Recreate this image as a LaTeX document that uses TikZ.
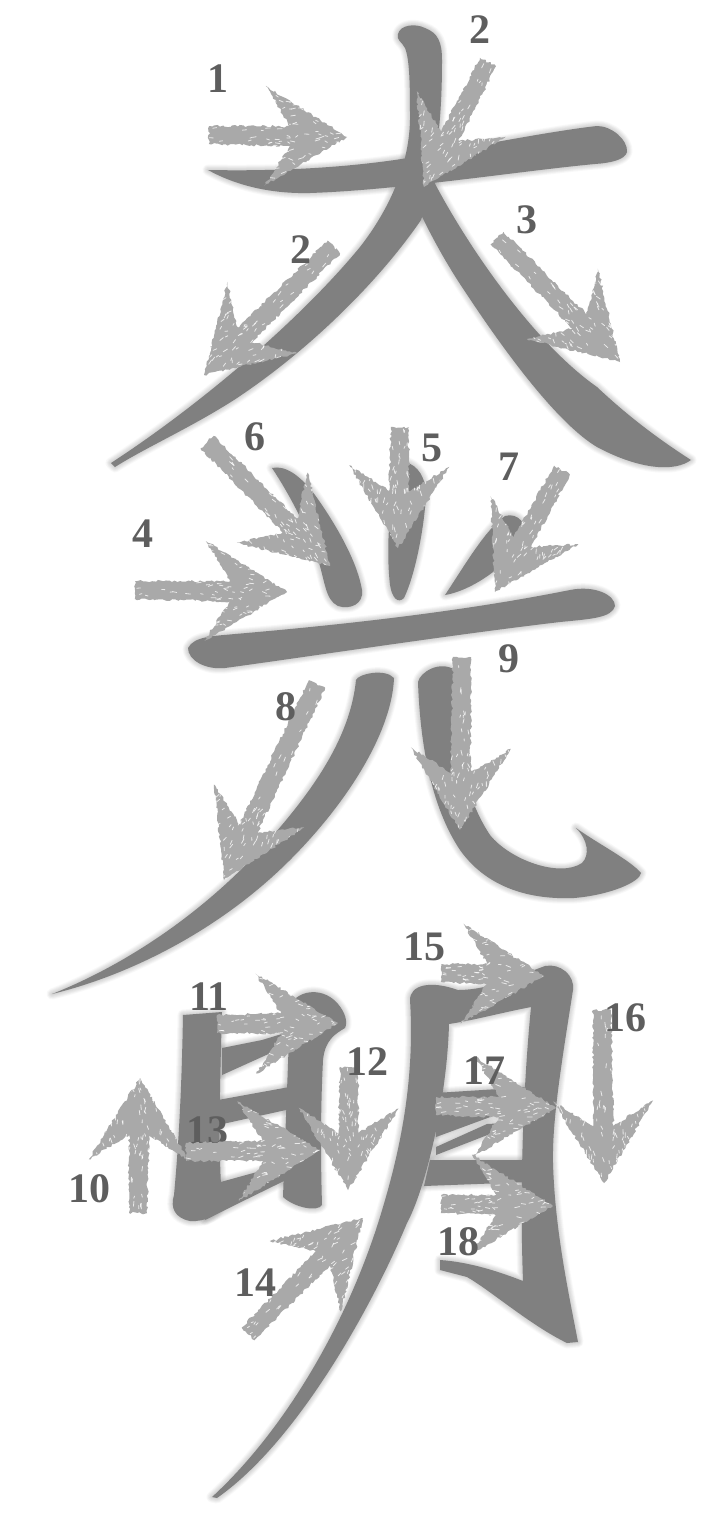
\documentclass[tikz,border=0pt]{standalone}
\usepackage{fontspec}
\setmainfont{Liberation Serif}
\usetikzlibrary{decorations.pathmorphing}
\definecolor{inkc}{HTML}{808080}
\definecolor{arrowc}{HTML}{A9A9A9}
\definecolor{numc}{HTML}{5E5E5E}
\newcommand{\inkstroke}[1]{%
  \foreach \w in {11,9,7.5,6,4.5,3,1.5}{\path[draw=inkc,line width=\w pt,opacity=.05,line join=round] #1;}%
  \fill[inkc] #1;}
\newcommand{\brush}[4]{%
  \pgfmathsetmacro\ang{atan2(-(#4-#2),#3-#1)}%
  \pgfmathsetmacro\len{veclen(#3-#1,#4-#2)}%
  \begin{scope}[shift={(#3,#4)},rotate=\ang]
    \def\arrowpath{(0,0) -- (-82,-50) -- (-57,-10) -- (-\len,-9) -- (-\len,9) -- (-57,10) -- (-82,50) -- cycle}
    \fill[arrowc,decorate,decoration={random steps,segment length=2.5pt,amplitude=1.2pt}] \arrowpath;
    \begin{scope}
      \clip \arrowpath;
      \foreach \i in {1,...,60}{%
        \pgfmathsetmacro\ua{rnd}\pgfmathsetmacro\ub{rnd}%
        \pgfmathsetmacro\flip{(\ua+\ub)>1 ? 1 : 0}%
        \pgfmathsetmacro\uc{\flip>0 ? 1-\ua : \ua}\pgfmathsetmacro\ud{\flip>0 ? 1-\ub : \ub}%
        \pgfmathsetmacro\px{-82*(\uc+\ud)}\pgfmathsetmacro\py{50*(\uc-\ud)}%
        \pgfmathsetmacro\qx{2+3*rnd}\pgfmathsetmacro\qy{-2+4*rnd}%
        \draw[white,line width=.8pt,opacity=.75,line cap=round] (\px,\py) -- ++(\qx,\qy);}
      \foreach \i in {1,...,14}{%
        \pgfmathsetmacro\px{-57-(\len-57)*rnd}\pgfmathsetmacro\py{-8+16*rnd}%
        \pgfmathsetmacro\qx{2+3*rnd}\pgfmathsetmacro\qy{-1+2*rnd}%
        \draw[white,line width=.8pt,opacity=.75,line cap=round] (\px,\py) -- ++(\qx,\qy);}
    \end{scope}
  \end{scope}}
\tikzset{num/.style={text=numc,inner sep=0pt,font=\bfseries\fontsize{42}{42}\selectfont}}
\begin{document}
\begin{tikzpicture}[x=1pt,y=-1pt]
\useasboundingbox (0,0) rectangle (709,1520);
\fill[white] (0,0) rectangle (709,1520);
\pgfmathsetseed{4242}
% --- first character
\inkstroke{(208,170) .. controls (260,171) and (340,170) .. (420,156) .. controls (490,143) and (560,130) .. (597,126) .. controls (612,126) and (628,140) .. (627,152) .. controls (625,160) and (610,163) .. (595,164) .. controls (520,171) and (400,190) .. (310,193) .. controls (270,194) and (235,185) .. (208,170) -- cycle}
\inkstroke{(111,463) .. controls (200,405) and (300,320) .. (360,247) .. controls (385,215) and (409,170) .. (410,120) .. controls (410,90) and (410,60) .. (405,48) .. controls (402,42) and (396,40) .. (398,34) .. controls (400,25) and (415,23) .. (425,28) .. controls (438,33) and (442,42) .. (442,60) .. controls (442,100) and (440,160) .. (421,220) .. controls (380,280) and (310,350) .. (234,400) .. controls (190,428) and (145,448) .. (115,467) -- cycle}
\inkstroke{(428,170) .. controls (460,235) and (530,340) .. (597,387) .. controls (630,418) and (660,440) .. (691,460) .. controls (675,472) and (640,470) .. (597,447) .. controls (560,425) and (510,360) .. (464,290) .. controls (445,262) and (425,225) .. (412,195) -- cycle}
% --- second character
\inkstroke{(272,468) .. controls (285,465) and (300,475) .. (315,495) .. controls (340,530) and (358,565) .. (362,590) .. controls (364,604) and (350,610) .. (338,606) .. controls (325,600) and (325,580) .. (318,560) .. controls (308,530) and (290,495) .. (272,468) -- cycle}
\inkstroke{(405,462) .. controls (418,465) and (426,478) .. (426,495) .. controls (424,530) and (415,575) .. (404,598) .. controls (398,604) and (392,598) .. (390,585) .. controls (386,550) and (388,490) .. (405,462) -- cycle}
\inkstroke{(445,595) .. controls (465,565) and (485,530) .. (505,516) .. controls (518,512) and (528,525) .. (524,535) .. controls (515,560) and (475,590) .. (445,595) -- cycle}
\inkstroke{(188,648) .. controls (194,636) and (215,636) .. (235,634) .. controls (340,625) and (460,612) .. (570,590) .. controls (595,585) and (615,595) .. (615,606) .. controls (612,618) and (590,619) .. (560,622) .. controls (450,635) and (320,655) .. (225,668) .. controls (205,670) and (188,660) .. (188,648) -- cycle}
\inkstroke{(394,678) .. controls (392,730) and (350,800) .. (290,860) .. controls (220,930) and (130,975) .. (52,994) .. controls (125,965) and (200,915) .. (260,850) .. controls (310,795) and (350,740) .. (356,680) .. controls (358,674) and (385,668) .. (394,678) -- cycle}
\inkstroke{(418,682) .. controls (420,672) and (440,660) .. (455,670) .. controls (455,730) and (460,790) .. (490,835) .. controls (510,860) and (560,878) .. (582,863) .. controls (590,855) and (588,840) .. (576,828) .. controls (600,845) and (630,860) .. (641,873) .. controls (640,882) and (610,895) .. (574,898) .. controls (525,900) and (485,885) .. (460,850) .. controls (430,805) and (420,740) .. (418,682) -- cycle}
% --- third character: left part
\inkstroke{(183,1015) -- (222,1012) .. controls (220,1080) and (218,1150) .. (222,1200) .. controls (222,1215) and (205,1222) .. (190,1221) .. controls (175,1218) and (170,1208) .. (174,1195) .. controls (180,1130) and (182,1070) .. (183,1015) -- cycle}
\inkstroke{(290,1005) .. controls (300,988) and (325,988) .. (338,1004) .. controls (345,1012) and (348,1022) .. (345,1028) .. controls (335,1034) and (325,1040) .. (323,1060) .. controls (320,1120) and (321,1170) .. (322,1205) .. controls (318,1212) and (295,1208) .. (283,1197) .. controls (285,1140) and (288,1070) .. (290,1005) -- cycle}
\inkstroke{(222,1048) -- (262,1040) -- (295,1030) -- (295,1042) -- (222,1075) -- cycle}
\inkstroke{(218,1100) -- (295,1086) -- (295,1108) -- (218,1125) -- cycle}
\inkstroke{(217,1183) -- (257,1172) -- (290,1160) -- (290,1178) -- (235,1205) -- (205,1220) -- cycle}
% --- third character: right part
\inkstroke{(212,1497) .. controls (285,1430) and (350,1320) .. (383,1207) .. controls (400,1150) and (415,1080) .. (410,1000) .. controls (410,985) and (430,980) .. (458,990) .. controls (490,990) and (520,975) .. (545,966) .. controls (560,963) and (575,975) .. (573,990) .. controls (562,1060) and (552,1120) .. (553,1163) .. controls (555,1230) and (568,1290) .. (578,1342) -- (567,1343) .. controls (530,1325) and (490,1290) .. (467,1277) -- (440,1270) -- (440,1260) .. controls (470,1262) and (500,1272) .. (523,1281) .. controls (520,1200) and (522,1100) .. (531,1007) .. controls (500,1013) and (475,1020) .. (449,1024) .. controls (447,1100) and (425,1190) .. (407,1223) .. controls (375,1300) and (300,1440) .. (217,1498) -- cycle}
\inkstroke{(435,1093) -- (530,1087) -- (530,1118) -- (493,1116) -- (436,1137) -- cycle}
\inkstroke{(436,1147) -- (487,1124) -- (525,1122) -- (490,1134) -- (436,1155) -- cycle}
\inkstroke{(430,1160) -- (530,1160) -- (530,1182) -- (424,1186) -- cycle}
% --- number hidden under an arrow
\node[num] (n13) at (207,1131) {13};
% --- arrows
\brush{209}{135}{347}{137}
\brush{488}{62}{424}{187}
\brush{334}{247}{204}{375}
\brush{497}{238}{620}{362}
\brush{135}{590}{287}{592}
\brush{400}{427}{398}{548}
\brush{207}{442}{330}{566}
\brush{562}{470}{495}{592}
\brush{317}{684}{224}{880}
\brush{462}{657}{460}{830}
\brush{138}{1213}{140}{1078}
\brush{217}{1024}{338}{1023}
\brush{349}{1067}{348}{1190}
\brush{186}{1152}{320}{1150}
\brush{248}{1334}{363}{1218}
\brush{441}{973}{544}{976}
\brush{602}{1010}{604}{1183}
\brush{436}{1106}{556}{1108}
\brush{441}{1204}{553}{1206}
% --- numbers
\node[num] (n1) at (218,79) {1};
\node[num] (n2a) at (480,30) {2};
\node[num] (n2b) at (301,250) {2};
\node[num] (n3) at (527,220) {3};
\node[num] (n4) at (143,534) {4};
\node[num] (n5) at (432,448) {5};
\node[num] (n6) at (255,437) {6};
\node[num] (n7) at (509,467) {7};
\node[num] (n8) at (286,707) {8};
\node[num] (n9) at (509,659) {9};
\node[num] (n10) at (89,1189) {10};
\node[num] (n11) at (209,997) {11};
\node[num] (n12) at (367,1062) {12};
\node[num] (n14) at (255,1283) {14};
\node[num] (n15) at (424,947) {15};
\node[num] (n16) at (625,1018) {16};
\node[num] (n17) at (484,1071) {17};
\node[num] (n18) at (458,1242) {18};
\end{tikzpicture}
\end{document}
